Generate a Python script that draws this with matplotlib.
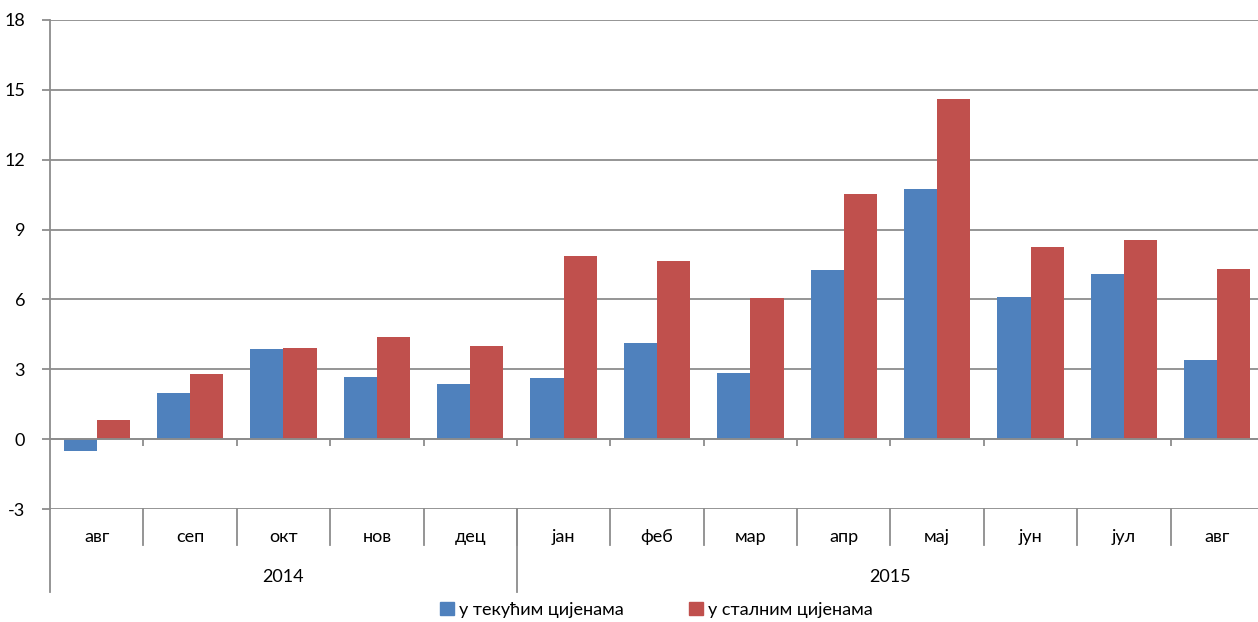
import matplotlib.pyplot as plt
import matplotlib.patches as mpatches
import matplotlib.transforms as mtransforms
import numpy as np

plt.rcParams["font.family"] = ["Lato", "DejaVu Sans"]
plt.rcParams["axes.unicode_minus"] = False

# ---------------------------------------------------------------------------
# Data
# ---------------------------------------------------------------------------

MONTHS = ["авг", "сеп", "окт", "нов", "дец", "јан", "феб", "мар",
          "апр", "мај", "јун", "јул", "авг"]
YEARS = ["2014", "2015"]
YEAR_SPANS = [5, 8]  # number of months under each year
CURRENT_PRICES = [-0.5, 2.0, 3.86, 2.66, 2.35, 2.63, 4.11, 2.83,
                  7.27, 10.73, 6.11, 7.08, 3.40]
CONSTANT_PRICES = [0.82, 2.78, 3.92, 4.40, 3.99, 7.87, 7.63, 6.08,
                   10.51, 14.61, 8.24, 8.55, 7.32]
LABELS = ["у текућим цијенама", "у сталним цијенама"]

BLUE = "#4F81BD"
RED = "#C0504D"
GRID = "#8C8C8C"

# ---------------------------------------------------------------------------
# Plot
# ---------------------------------------------------------------------------

fig = plt.figure(figsize=(12.58, 6.22), dpi=100)
ax = fig.add_axes([50 / 1258, 113 / 622, 1214 / 1258, 489 / 622])

x = np.arange(len(MONTHS))
w = 0.355
ax.bar(x - w / 2, CURRENT_PRICES, w, color=BLUE, zorder=3)
ax.bar(x + w / 2, CONSTANT_PRICES, w, color=RED, zorder=3)

ax.set_xlim(-0.5, len(MONTHS) - 0.5)
ax.set_ylim(-3, 18)
ax.set_yticks(np.arange(-3, 19, 3))
ax.yaxis.grid(True, color=GRID, linewidth=1.3, zorder=0)
ax.set_axisbelow(True)

for s in ["top", "right"]:
    ax.spines[s].set_visible(False)
ax.spines["left"].set_color(GRID)
ax.spines["left"].set_linewidth(1.3)
ax.spines["bottom"].set_position(("data", 0))
ax.spines["bottom"].set_color(GRID)
ax.spines["bottom"].set_linewidth(1.3)
ax.spines["bottom"].set_zorder(4)

ax.set_xticks(np.arange(0.5, len(MONTHS) - 0.5, 1))
ax.set_xticklabels([])
ax.tick_params(axis="x", direction="out", length=5, width=1.3, color=GRID)
ax.tick_params(axis="y", direction="out", length=6, width=1.3, color=GRID,
               pad=12, labelsize=13)

# Category table below the plot
trans = mtransforms.blended_transform_factory(ax.transData, ax.transAxes)
for i, m in enumerate(MONTHS):
    ax.text(i, -0.057, m, transform=trans, ha="center", va="center",
            fontsize=13)
for b in np.arange(0.5, len(MONTHS) - 0.5, 1):
    ax.plot([b, b], [0, -0.074], transform=trans, color=GRID, lw=1.3,
            clip_on=False)

start = 0
bounds = [-0.5]
for yr, span in zip(YEARS, YEAR_SPANS):
    centre = start + (span - 1) / 2
    ax.text(centre, -0.139, yr, transform=trans, ha="center", va="center",
            fontsize=13)
    start += span
    bounds.append(start - 0.5)
for b in bounds[:-1]:
    ax.plot([b, b], [0, -0.17], transform=trans, color=GRID, lw=1.3,
            clip_on=False)

handles = [mpatches.Patch(color=BLUE, label=LABELS[0]),
           mpatches.Patch(color=RED, label=LABELS[1])]
fig.legend(handles=handles, loc="center", bbox_to_anchor=(0.522, 0.019),
           ncol=2, frameon=False, fontsize=13, handlelength=0.75,
           handleheight=0.75, handletextpad=0.3, columnspacing=3.6)

fig.savefig("out.png", dpi=100)
